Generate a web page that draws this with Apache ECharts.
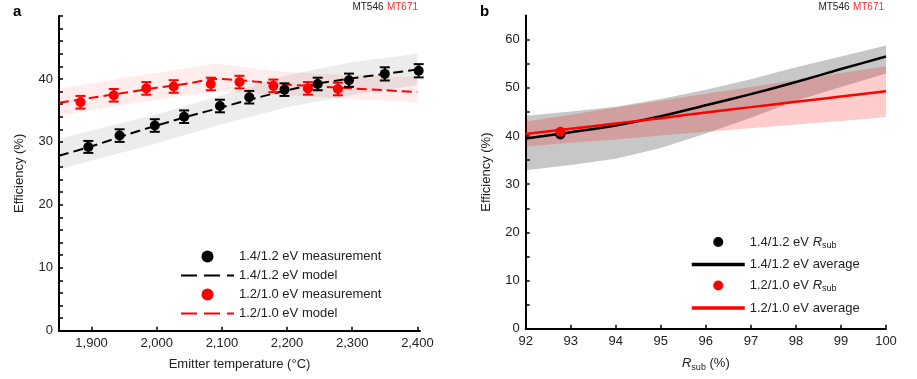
<!DOCTYPE html>
<html><head><meta charset="utf-8">
<script src="https://cdn.jsdelivr.net/npm/echarts@6/dist/echarts.min.js"></script>
<style>html,body{margin:0;padding:0;background:#fff}#c{width:917px;height:379px}</style>
</head><body><div id="c"></div>
<script>
// ---------- Panel a data ----------
const tempTicks = [1900, 2000, 2100, 2200, 2300, 2400];
const effTicksA = [0, 10, 20, 30, 40];
const effMinorA = [0,2,4,6,8,10,12,14,16,18,20,22,24,26,28,30,32,34,36,38,40,42,44,46,48,50];
const meas14Temp = [1895, 1943, 1997, 2042, 2097, 2142, 2196, 2247, 2295, 2350, 2402];
const meas14Eff  = [29.2, 31.0, 32.6, 34.0, 35.7, 37.1, 38.3, 39.2, 39.8, 40.8, 41.3];
const meas14Err  = [0.95, 1.0, 1.0, 1.0, 1.0, 1.0, 1.0, 1.0, 1.05, 1.05, 1.05];
const meas12Temp = [1883, 1934, 1984, 2026, 2083, 2127, 2179, 2232, 2278];
const meas12Eff  = [36.3, 37.4, 38.5, 38.8, 39.2, 39.5, 38.9, 38.5, 38.4];
const meas12Err  = [1.0, 1.0, 1.0, 1.0, 1.0, 1.0, 1.0, 1.0, 1.0];
const model14Temp = [1850, 1900, 1950, 2000, 2050, 2100, 2150, 2200, 2250, 2300, 2350, 2400];
const model14Eff  = [27.8, 29.3, 31.0, 32.6, 34.1, 35.5, 36.9, 38.2, 39.3, 40.1, 40.8, 41.5];
const model12Temp = [1850, 1900, 1950, 2000, 2050, 2090, 2150, 2200, 2250, 2300, 2350, 2400];
const model12Eff  = [36.2, 37.0, 37.8, 38.6, 39.3, 40.0, 39.6, 39.1, 38.8, 38.5, 38.2, 37.9];
const band14Temp = [1850, 2000, 2100, 2200, 2300, 2400];
const band14Low  = [25.6, 29.8, 32.8, 35.5, 37.5, 39.0];
const band14High = [30.5, 34.4, 37.4, 40.6, 42.7, 44.0];
const band12Temp = [1850, 1950, 2000, 2090, 2200, 2300, 2400];
const band12Low  = [34.2, 35.9, 36.7, 38.0, 37.4, 36.8, 36.3];
const band12High = [38.4, 40.2, 41.0, 42.4, 41.1, 40.6, 40.3];

// ---------- Panel b data ----------
const rsubTicks = [92, 93, 94, 95, 96, 97, 98, 99, 100];
const effTicksB = [0, 10, 20, 30, 40, 50, 60];
const effMinorB = [0,5,10,15,20,25,30,35,40,45,50,55,60];
const rsub = [92, 93, 94, 95, 96, 97, 98, 99, 100];
const avg14 = [39.5, 40.8, 42.2, 44.1, 46.4, 48.7, 51.2, 53.9, 56.5];
const bandB14Low  = [32.9, 34.0, 35.3, 37.5, 40.5, 43.8, 47.3, 50.2, 53.0];
const bandB14High = [44.2, 45.1, 46.1, 47.7, 49.6, 51.8, 54.3, 56.5, 58.8];
const avg12 = [40.4, 41.5, 42.6, 43.7, 44.9, 46.0, 47.1, 48.2, 49.3];
const bandB12Low  = [37.8, 38.6, 39.3, 40.1, 40.9, 41.6, 42.4, 43.1, 43.9];
const bandB12High = [43.0, 44.4, 45.9, 47.3, 48.8, 50.2, 51.6, 53.1, 54.5];
const rsubPt14 = [92.77]; const effPt14 = [40.3];
const rsubPt12 = [92.77]; const effPt12 = [40.9];

const FONT = '"Liberation Sans", Arial, Helvetica, sans-serif';
const TXT = '#222';
const RED = '#ff0000';

function zip(xs, ys) { return xs.map((x, i) => [x, ys[i]]); }

function bandSeries(gi, xs, lo, hi, color, z) {
  return {
    type: 'custom', xAxisIndex: gi, yAxisIndex: gi, z: z, silent: true,
    data: xs.map((x, i) => [x, lo[i], hi[i]]),
    encode: { x: 0, y: [1, 2] },
    renderItem: function (params, api) {
      if (params.dataIndex !== 0) return null;
      const pts = [];
      for (let i = 0; i < xs.length; i++) pts.push(api.coord([xs[i], hi[i]]));
      for (let i = xs.length - 1; i >= 0; i--) pts.push(api.coord([xs[i], lo[i]]));
      return { type: 'polygon', shape: { points: pts, smooth: 0 }, style: { fill: color } };
    }
  };
}

function errSeries(gi, xs, ys, es, color, z) {
  return {
    type: 'custom', xAxisIndex: gi, yAxisIndex: gi, z: z, silent: true,
    data: xs.map((x, i) => [x, ys[i] - es[i], ys[i] + es[i]]),
    encode: { x: 0, y: [1, 2] },
    renderItem: function (params, api) {
      const a = api.coord([api.value(0), api.value(1)]);
      const b = api.coord([api.value(0), api.value(2)]);
      const w = 5, st = { stroke: color, lineWidth: 2 };
      return { type: 'group', children: [
        { type: 'line', shape: { x1: a[0], y1: a[1], x2: b[0], y2: b[1] }, style: st },
        { type: 'line', shape: { x1: a[0] - w, y1: a[1], x2: a[0] + w, y2: a[1] }, style: st },
        { type: 'line', shape: { x1: b[0] - w, y1: b[1], x2: b[0] + w, y2: b[1] }, style: st }
      ]};
    }
  };
}

const axisLineStyle = { show: true, lineStyle: { color: '#000', width: 2 } };
const tickStyle = (vals) => ({ show: true, inside: true, length: 4, lineStyle: { color: '#000', width: 1.5 }, customValues: vals });
const lblStyle = (vals, fmt) => ({ customValues: vals, formatter: fmt, color: TXT, fontSize: 13, fontFamily: FONT, margin: 6 });
const nameStyle = { color: TXT, fontSize: 13, fontFamily: FONT,
  rich: { i: { fontStyle: 'italic', fontSize: 13, fontFamily: FONT, color: TXT },
          s: { fontSize: 9, fontFamily: FONT, color: TXT, padding: [7, 0, 0, 0] },
          n: { fontSize: 13, fontFamily: FONT, color: TXT } } };

const bNames = {
  '1.4/1.2 eV Rsub': '1.4/1.2 eV {i|R}{s|sub}',
  '1.4/1.2 eV average': '1.4/1.2 eV average',
  '1.2/1.0 eV Rsub': '1.2/1.0 eV {i|R}{s|sub}',
  '1.2/1.0 eV average': '1.2/1.0 eV average'
};
const noSym = { opacity: 0 };

const option = {
  animation: false,
  backgroundColor: '#fff',
  textStyle: { fontFamily: FONT },
  grid: [
    { left: 59, width: 361, top: 16, bottom: 48.3 },
    { left: 525.7, width: 360.3, top: 15.6, bottom: 50.3 }
  ],
  xAxis: [
    { gridIndex: 0, type: 'value', min: 1850, max: 2404,
      axisLine: axisLineStyle, axisTick: tickStyle(tempTicks), splitLine: { show: false },
      axisLabel: lblStyle(tempTicks, v => v.toLocaleString('en-US')),
      name: 'Emitter temperature (°C)', nameLocation: 'middle', nameGap: 27, nameTextStyle: nameStyle },
    { gridIndex: 1, type: 'value', min: 92, max: 100, interval: 1,
      axisLine: axisLineStyle, axisTick: tickStyle(rsubTicks), splitLine: { show: false },
      axisLabel: lblStyle(rsubTicks, v => String(v)),
      name: '{i|R}{s|sub}{n| (%)}', nameLocation: 'middle', nameGap: 27, nameTextStyle: nameStyle }
  ],
  yAxis: [
    { gridIndex: 0, type: 'value', min: 0, max: 50,
      axisLine: axisLineStyle, axisTick: tickStyle(effMinorA), splitLine: { show: false },
      axisLabel: lblStyle(effTicksA, v => String(v)),
      name: 'Efficiency (%)', nameLocation: 'middle', nameGap: 33, nameTextStyle: nameStyle },
    { gridIndex: 1, type: 'value', min: 0, max: 65,
      axisLine: axisLineStyle, axisTick: tickStyle(effMinorB), splitLine: { show: false },
      axisLabel: lblStyle(effTicksB, v => String(v)),
      name: 'Efficiency (%)', nameLocation: 'middle', nameGap: 33, nameTextStyle: nameStyle }
  ],
  legend: [
    { left: 180, top: 250, padding: 0, orient: 'vertical', itemWidth: 53, itemHeight: 12, itemGap: 6,
      selectedMode: false, textStyle: { fontSize: 13, color: TXT, fontFamily: FONT },
      lineStyle: { type: [16, 7] },
      data: [ '1.4/1.2 eV measurement', { name: '1.4/1.2 eV model', itemStyle: noSym },
              '1.2/1.0 eV measurement', { name: '1.2/1.0 eV model', itemStyle: noSym } ] },
    { left: 690, top: 235.5, padding: 0, orient: 'vertical', itemWidth: 53, itemHeight: 10, itemGap: 8,
      selectedMode: false,
      textStyle: { fontSize: 13, color: TXT, fontFamily: FONT, rich: nameStyle.rich },
      lineStyle: { width: 3.5 },
      formatter: n => bNames[n],
      data: [ '1.4/1.2 eV Rsub', { name: '1.4/1.2 eV average', itemStyle: noSym },
              '1.2/1.0 eV Rsub', { name: '1.2/1.0 eV average', itemStyle: noSym } ] }
  ],
  graphic: [
    { type: 'text', style: { text: 'a', x: 13, y: 12, font: 'bold 15px ' + FONT, fill: '#000', verticalAlign: 'middle' } },
    { type: 'text', style: { text: 'b', x: 480, y: 12, font: 'bold 15px ' + FONT, fill: '#000', verticalAlign: 'middle' } },
    { type: 'text', style: { text: '{k|MT546} {r|MT671}', x: 418, y: 7, align: 'right', verticalAlign: 'middle',
        rich: { k: { fontSize: 10, fontFamily: FONT, fill: TXT }, r: { fontSize: 10, fontFamily: FONT, fill: '#ff2a2a' } } } },
    { type: 'text', style: { text: '{k|MT546} {r|MT671}', x: 884, y: 7, align: 'right', verticalAlign: 'middle',
        rich: { k: { fontSize: 10, fontFamily: FONT, fill: TXT }, r: { fontSize: 10, fontFamily: FONT, fill: '#ff2a2a' } } } }
  ],
  series: [
    // Panel a
    bandSeries(0, band14Temp, band14Low, band14High, 'rgba(0,0,0,0.075)', 1),
    bandSeries(0, band12Temp, band12Low, band12High, 'rgba(255,0,0,0.075)', 1),
    { name: '1.4/1.2 eV model', type: 'line', xAxisIndex: 0, yAxisIndex: 0, z: 2, symbol: 'none', smooth: 0.3,
      data: zip(model14Temp, model14Eff), lineStyle: { color: '#000', width: 2, type: [10, 5] }, itemStyle: { color: '#000' } },
    { name: '1.2/1.0 eV model', type: 'line', xAxisIndex: 0, yAxisIndex: 0, z: 2, symbol: 'none', smooth: 0.3,
      data: zip(model12Temp, model12Eff), lineStyle: { color: RED, width: 2, type: [10, 5] }, itemStyle: { color: RED } },
    errSeries(0, meas12Temp, meas12Eff, meas12Err, RED, 3),
    { name: '1.2/1.0 eV measurement', type: 'scatter', xAxisIndex: 0, yAxisIndex: 0, z: 4, symbol: 'circle', symbolSize: 10,
      data: zip(meas12Temp, meas12Eff), itemStyle: { color: RED, opacity: 1 } },
    errSeries(0, meas14Temp, meas14Eff, meas14Err, '#000', 5),
    { name: '1.4/1.2 eV measurement', type: 'scatter', xAxisIndex: 0, yAxisIndex: 0, z: 6, symbol: 'circle', symbolSize: 10,
      data: zip(meas14Temp, meas14Eff), itemStyle: { color: '#000', opacity: 1 } },
    // Panel b
    bandSeries(1, rsub, bandB14Low, bandB14High, 'rgba(0,0,0,0.22)', 1),
    bandSeries(1, rsub, bandB12Low, bandB12High, 'rgba(255,0,0,0.2)', 2),
    { name: '1.4/1.2 eV average', type: 'line', xAxisIndex: 1, yAxisIndex: 1, z: 3, symbol: 'none', smooth: 0.3,
      data: zip(rsub, avg14), lineStyle: { color: '#000', width: 2.5 }, itemStyle: { color: '#000' } },
    { name: '1.2/1.0 eV average', type: 'line', xAxisIndex: 1, yAxisIndex: 1, z: 4, symbol: 'none', smooth: 0.3,
      data: zip(rsub, avg12), lineStyle: { color: RED, width: 2.5 }, itemStyle: { color: RED } },
    { name: '1.4/1.2 eV Rsub', type: 'scatter', xAxisIndex: 1, yAxisIndex: 1, z: 5, symbol: 'circle', symbolSize: 10,
      data: zip(rsubPt14, effPt14), itemStyle: { color: '#000', opacity: 1 } },
    { name: '1.2/1.0 eV Rsub', type: 'scatter', xAxisIndex: 1, yAxisIndex: 1, z: 6, symbol: 'circle', symbolSize: 10,
      data: zip(rsubPt12, effPt12), itemStyle: { color: RED, opacity: 1 } }
  ]
};

const chart = echarts.init(document.getElementById('c'), null, { renderer: 'canvas' });
chart.setOption(option);
</script>
</body></html>
